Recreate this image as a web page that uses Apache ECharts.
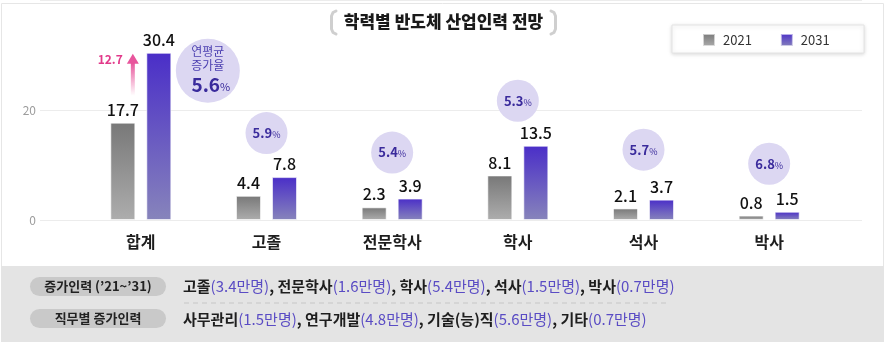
<!DOCTYPE html>
<html><head><meta charset="utf-8">
<script src="https://cdn.jsdelivr.net/npm/echarts@6/dist/echarts.min.js"></script>
<style>html,body{margin:0;padding:0;background:#fff}#c{width:886px;height:342px}</style>
</head><body><div id="c"></div>
<script>
// ---- data ----
const categories = ['합계', '고졸', '전문학사', '학사', '석사', '박사'];
const seriesNames = ['2021', '2031'];
const values2021 = [17.7, 4.4, 2.3, 8.1, 2.1, 0.8];
const values2031 = [30.4, 7.8, 3.9, 13.5, 3.7, 1.5];
const growthRates = [5.6, 5.9, 5.4, 5.3, 5.7, 6.8];
const yTicks = [0, 20];
const titleText = '학력별 반도체 산업인력 전망';
const rowLabels = ['증가인력 (’21~’31)', '직무별 증가인력'];
const eduNames = ['고졸', '전문학사', '학사', '석사', '박사'];
const eduIncrease = [3.4, 1.6, 5.4, 1.5, 0.7];
const jobNames = ['사무관리', '연구개발', '기술(능)직', '기타'];
const jobIncrease = [1.5, 4.8, 5.6, 0.7];

// ---- layout / style ----
const FONT = '"Noto Sans CJK KR", "Noto Sans", sans-serif';
const bubbleOffsets = [[67, 18], [0, -44], [0, -46], [0, -45], [0, -50], [0, -48]];
const bubbleSizes = [64, 42, 42, 42, 42, 42];
const PURPLE_TXT = '#3a2b9c';

const chart = echarts.init(document.getElementById('c'), null, {renderer: 'canvas'});
const grayGrad = new echarts.graphic.LinearGradient(0, 0, 0, 1, [{offset: 0, color: '#787878'}, {offset: 1, color: '#adadad'}]);
const purpleGrad = new echarts.graphic.LinearGradient(0, 0, 0, 1, [{offset: 0, color: '#4a2ec8'}, {offset: 1, color: '#8784bb'}]);
const yMax = 40;

const option = {
  animation: false,
  textStyle: {fontFamily: FONT},
  legend: {
    data: seriesNames, left: 702, top: 33, itemWidth: 12, itemHeight: 12, itemGap: 28,
    icon: 'rect', padding: 0,
    textStyle: {fontSize: 13, color: '#333', fontFamily: FONT, padding: [0, 0, 0, 3]}
  },
  grid: [
    {left: 78, width: 754, top: -2, height: 222},
    {left: 40, right: 24, top: -2, height: 222}
  ],
  xAxis: [
    {type: 'category', gridIndex: 0, data: categories, axisLine: {show: false}, axisTick: {show: false},
     axisLabel: {fontSize: 16, fontWeight: 'bold', color: '#1e1e1e', margin: 14, fontFamily: FONT}},
    {type: 'value', gridIndex: 1, show: false, min: 0, max: 1}
  ],
  yAxis: [
    {type: 'value', gridIndex: 0, min: yTicks[0], max: yMax, interval: yTicks[1] - yTicks[0], show: false},
    {type: 'value', gridIndex: 1, min: yTicks[0], max: yMax, interval: yTicks[1] - yTicks[0],
     axisLine: {show: false}, axisTick: {show: false},
     splitLine: {lineStyle: {color: '#ececec', width: 1}},
     axisLabel: {color: '#9c9c9c', fontSize: 12, margin: 4, showMaxLabel: false, fontFamily: FONT}}
  ],
  series: [
    {name: seriesNames[0], type: 'bar', xAxisIndex: 0, yAxisIndex: 0, data: values2021,
     barWidth: 25, barGap: '44%', itemStyle: {color: grayGrad, borderColor: 'rgba(255,255,255,0.6)', borderWidth: 1},
     label: {show: true, position: 'top', distance: 5, fontSize: 16, fontWeight: 500, color: '#111', fontFamily: FONT}},
    {name: seriesNames[1], type: 'bar', xAxisIndex: 0, yAxisIndex: 0, data: values2031,
     barWidth: 25, itemStyle: {color: purpleGrad, borderColor: 'rgba(255,255,255,0.6)', borderWidth: 1},
     label: {show: true, position: 'top', distance: 5, fontSize: 16, fontWeight: 500, color: '#111', fontFamily: FONT}},
    {type: 'scatter', xAxisIndex: 0, yAxisIndex: 0, z: 1, silent: true,
     data: values2031.map((v, i) => ({
       value: v, symbolSize: bubbleSizes[i], symbolOffset: bubbleOffsets[i],
       label: {
         show: true, position: 'inside',
         formatter: i === 0
           ? '{t|연평균}\n{t|증가율}\n{v|' + growthRates[i].toFixed(1) + '}{p|%}'
           : '{s|' + growthRates[i].toFixed(1) + '}{q|%}',
         rich: {
           t: {fontSize: 12, color: '#4b3fb0', lineHeight: 14, fontFamily: FONT},
           v: {fontSize: 19, fontWeight: 'bold', color: PURPLE_TXT, lineHeight: 24, fontFamily: FONT, padding: [0, 0, 0, 6]},
           p: {fontSize: 11, color: PURPLE_TXT, lineHeight: 24, fontFamily: FONT, padding: [4, 0, 0, 0]},
           s: {fontSize: 13, fontWeight: 'bold', color: PURPLE_TXT, fontFamily: FONT},
           q: {fontSize: 9, color: PURPLE_TXT, fontFamily: FONT, padding: [3, 0, 0, 0]}
         }
       }
     })),
     itemStyle: {color: '#dcd7f2', opacity: 1}}
  ]
};
chart.setOption(option);

// ---- decorations ----
function richLine(names, vals) {
  return names.map((n, i) => '{b|' + n + '}{p|(' + vals[i].toFixed(1) + '만명)}').join('{b|, }');
}
const rowRich = {
  b: {fontSize: 15, fontWeight: 'bold', fill: '#1e1e1e', fontFamily: FONT},
  p: {fontSize: 15, fill: '#5a4cc4', fontFamily: FONT}
};
const tip = chart.convertToPixel({gridIndex: 0}, [0, values2031[0]]);
const tail = chart.convertToPixel({gridIndex: 0}, [0, values2021[0]]);
const ax = tip[0] - 8, tipY = tip[1] + 1, tailY = tail[1] - 27;
const diff = (values2031[0] - values2021[0]).toFixed(1);

const graphics = [
  // outer border
  {type: 'rect', z: 0, shape: {x: 1.5, y: 3.5, width: 882, height: 345}, style: {fill: 'none', stroke: '#e6e6e6', lineWidth: 1}},
  // bottom panel
  {type: 'rect', z: 0, shape: {x: 1, y: 266, width: 883, height: 80}, style: {fill: '#e4e4e4'}},
  // title brackets and text
  {type: 'polyline', z: 5, shape: {points: [[336, 11], [333, 12.5], [331.5, 16], [331.5, 29], [333, 32.5], [336, 34]]}, style: {fill: 'none', stroke: '#cfcfcf', lineWidth: 3, lineCap: 'round', lineJoin: 'round'}},
  {type: 'polyline', z: 5, shape: {points: [[551, 11], [554, 12.5], [555.5, 16], [555.5, 29], [554, 32.5], [551, 34]]}, style: {fill: 'none', stroke: '#cfcfcf', lineWidth: 3, lineCap: 'round', lineJoin: 'round'}},
  {type: 'text', z: 5, x: 443.5, y: 22, style: {text: titleText, fontSize: 17, fontWeight: 900, fill: '#1a1a1a', align: 'center', verticalAlign: 'middle', fontFamily: FONT}},
  // legend box
  {type: 'rect', z: 1, shape: {x: 672, y: 25, width: 192, height: 28}, style: {fill: '#fff', stroke: '#e4e4e4', lineWidth: 1, shadowBlur: 4, shadowColor: 'rgba(0,0,0,0.15)', shadowOffsetY: 1}},
  // pills
  {type: 'rect', z: 5, shape: {x: 30, y: 277, width: 136, height: 19, r: 9.5}, style: {fill: '#c9c9c9'}},
  {type: 'text', z: 6, x: 98, y: 286.5, style: {text: rowLabels[0], fontSize: 13, fontWeight: 'bold', fill: '#222', align: 'center', verticalAlign: 'middle', fontFamily: FONT}},
  {type: 'rect', z: 5, shape: {x: 30, y: 309, width: 136, height: 19, r: 9.5}, style: {fill: '#c9c9c9'}},
  {type: 'text', z: 6, x: 98, y: 318.5, style: {text: rowLabels[1], fontSize: 13, fontWeight: 'bold', fill: '#222', align: 'center', verticalAlign: 'middle', fontFamily: FONT}},
  // row texts
  {type: 'text', z: 6, x: 183, y: 286, style: {text: richLine(eduNames, eduIncrease), rich: rowRich, verticalAlign: 'middle', fontFamily: FONT}},
  {type: 'line', z: 6, shape: {x1: 184, y1: 303, x2: 666, y2: 303}, style: {stroke: '#c6c6c6', lineWidth: 1, lineDash: [5, 4]}},
  {type: 'text', z: 6, x: 183, y: 319, style: {text: richLine(jobNames, jobIncrease), rich: rowRich, verticalAlign: 'middle', fontFamily: FONT}},
  // growth arrow
  {type: 'rect', z: 6, shape: {x: ax - 2, y: tipY + 9, width: 4, height: tailY - tipY - 9},
   style: {fill: new echarts.graphic.LinearGradient(0, 0, 0, 1, [{offset: 0, color: '#e8559c'}, {offset: 1, color: 'rgba(232,85,156,0)'}])}},
  {type: 'polygon', z: 6, shape: {points: [[ax, tipY], [ax - 6, tipY + 10], [ax + 6, tipY + 10]]}, style: {fill: '#e8559c'}},
  {type: 'text', z: 6, x: ax - 10, y: tipY + 6, style: {text: diff, fontSize: 12, fontWeight: 'bold', fill: '#e2398a', align: 'right', verticalAlign: 'middle', fontFamily: FONT}}
];
chart.setOption({graphic: graphics});
</script>
</body></html>
